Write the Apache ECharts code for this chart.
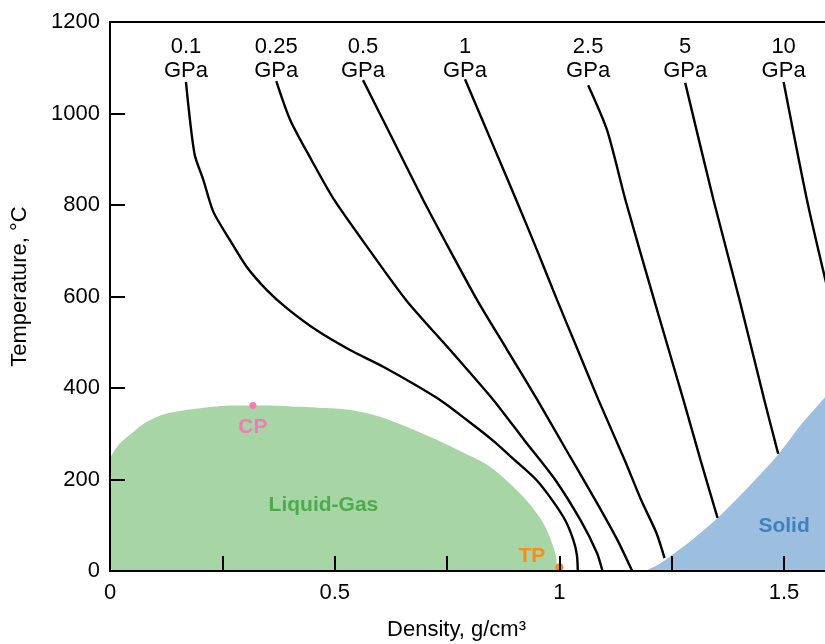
<!DOCTYPE html>
<html>
<head>
<meta charset="utf-8">
<title>Water isobars: temperature vs density</title>
<script src="https://cdn.jsdelivr.net/npm/echarts@6/dist/echarts.min.js"></script>
<style>
  html, body { margin: 0; padding: 0; background: #fff; }
  #chart { width: 825px; height: 644px; }
</style>
</head>
<body>
<div id="chart"></div>
<script>
// Isobar names (GPa) and their traces as [density g/cm3, temperature °C], top to bottom
const isobarNames = ['0.1', '0.25', '0.5', '1', '2.5', '5', '10'];

const isobar0_1 = [[0.169,1069],[0.188,912],[0.208,854],[0.230,785],[0.267,723],[0.304,665],[0.349,614],
  [0.394,574],[0.460,526],[0.534,483],[0.609,446],[0.728,378],[0.794,330],[0.851,286],[0.900,243],
  [0.949,199],[0.984,155],[1.013,111],[1.031,68],[1.039,35],[1.041,0]];
const isobar0_25 = [[0.370,1071],[0.401,986],[0.448,899],[0.499,811],[0.577,702],[0.659,592],[0.757,483],
  [0.853,374],[0.922,286],[0.991,199],[1.047,111],[1.084,39],[1.096,0]];
const isobar0_5 = [[0.563,1073],[0.630,942],[0.697,811],[0.756,702],[0.817,592],[0.884,483],[0.951,374],
  [1.015,265],[1.080,155],[1.129,68],[1.162,0]];
const isobar1 = [[0.790,1075],[0.857,920],[0.904,811],[0.950,702],[0.995,592],[1.041,483],[1.087,374],
  [1.145,243],[1.182,155],[1.216,83],[1.234,28]];
const isobar2_5 = [[1.064,1062],[1.106,964],[1.147,811],[1.211,592],[1.276,374],[1.314,243],[1.352,116]];
const isobar5 = [[1.280,1067],[1.343,811],[1.401,592],[1.456,374],[1.487,256]];
const isobar10 = [[1.499,1069],[1.551,811],[1.592,636],[1.632,472]];

const isobars = [isobar0_1, isobar0_25, isobar0_5, isobar1, isobar2_5, isobar5, isobar10];

// Phase region boundaries
const liquidGasEdge = [[0,247],[0.022,279],[0.052,304],[0.082,326],[0.126,344],[0.200,356],[0.275,362],
  [0.350,362],[0.423,359],[0.534,352],[0.601,337],[0.713,293],[0.780,262],[0.846,228],[0.920,162],
  [0.964,105],[0.991,39],[0.995,0]];
const solidEdge = [[1.190,0],[1.222,15],[1.252,36],[1.290,64],[1.351,115],[1.414,177],[1.488,256],
  [1.537,319],[1.592,381],[1.630,428]];

// Special points
const criticalPoint = [0.318, 362];
const triplePoint = [1.0, 8];

// Region captions, anchored in data coordinates
const regionLabels = [
  { text: 'Liquid-Gas', at: [0.475, 144], color: '#4cac4c' },
  { text: 'Solid', at: [1.500, 97], color: '#3f80c2' }
];

// Axis settings
const xTicks = { min: 0, max: 1.6, step: 0.25, labelStep: 0.5 };
const yTicks = { min: 0, max: 1200, step: 200 };

const FONT = '"Liberation Sans", Arial, Helvetica, sans-serif';

const chart = echarts.init(document.getElementById('chart'), null, { renderer: 'canvas' });

const series = [];

series.push({
  type: 'line', name: 'Liquid-Gas', data: liquidGasEdge, smooth: 0.3,
  showSymbol: false, silent: true, z: 1,
  lineStyle: { width: 0 },
  areaStyle: { color: '#a8d5a6', opacity: 1 }
});
series.push({
  type: 'line', name: 'Solid', data: solidEdge, smooth: 0.3,
  showSymbol: false, silent: true, z: 1,
  lineStyle: { width: 0 },
  areaStyle: { color: '#9dbfdf', opacity: 1 }
});

isobars.forEach((pts, i) => {
  series.push({
    type: 'line', name: isobarNames[i] + ' GPa', data: pts, smooth: 0.25,
    showSymbol: false, silent: true, z: 3,
    lineStyle: { color: '#000', width: 2.4 }
  });
});

// Pressure captions above the top end of each isobar
series.push({
  type: 'scatter', name: 'isobar labels', clip: false, silent: true, z: 4,
  symbolSize: 0,
  itemStyle: { opacity: 1 },
  data: isobars.map(pts => [pts[0][0], yTicks.max]),
  label: {
    show: true, position: 'bottom', distance: 13,
    formatter: p => isobarNames[p.dataIndex] + '\nGPa',
    fontFamily: FONT, fontSize: 22, lineHeight: 24, color: '#000', align: 'center'
  }
});

series.push({
  type: 'scatter', name: 'CP', clip: false, silent: true, z: 5,
  symbol: 'circle', symbolSize: 7,
  itemStyle: { color: '#f47ab6', opacity: 1 },
  data: [criticalPoint],
  label: {
    show: true, position: 'bottom', distance: 8, formatter: 'CP',
    fontFamily: FONT, fontSize: 21, fontWeight: 'bold', color: '#f47ab6'
  }
});
series.push({
  type: 'scatter', name: 'TP', clip: true, silent: true, z: 5,
  symbol: 'circle', symbolSize: 8,
  itemStyle: { color: '#ff8a12', opacity: 1 },
  data: [triplePoint],
  label: {
    show: true, position: 'left', distance: 10, offset: [0, -11], formatter: 'TP',
    fontFamily: FONT, fontSize: 21, fontWeight: 'bold', color: '#ff8a12'
  }
});

// Region captions, each in its own colour
series.push({
  type: 'scatter', name: 'regions', clip: false, silent: true, z: 5,
  symbolSize: 0,
  itemStyle: { opacity: 1 },
  data: regionLabels.map(r => ({ value: r.at, label: { color: r.color } })),
  label: {
    show: true, position: 'inside',
    formatter: p => regionLabels[p.dataIndex].text,
    fontFamily: FONT, fontSize: 21, fontWeight: 'bold'
  }
});

const axisLineStyle = { color: '#000', width: 2 };

chart.setOption({
  animation: false,
  backgroundColor: '#fff',
  textStyle: { fontFamily: FONT },
  grid: {
    left: 110, top: 22, right: -4, bottom: 73,
    containLabel: false, outerBoundsMode: 'none',
    show: true, borderColor: '#000', borderWidth: 2, backgroundColor: 'transparent'
  },
  xAxis: {
    type: 'value', min: xTicks.min, max: xTicks.max, interval: xTicks.step,
    z: 10,
    name: 'Density, g/cm³', nameLocation: 'middle', nameGap: 48,
    nameTextStyle: { fontFamily: FONT, fontSize: 22, color: '#000', padding: [0, 26, 0, 0] },
    axisLine: { show: true, onZero: false, lineStyle: axisLineStyle },
    axisTick: { show: true, inside: true, length: 15, lineStyle: axisLineStyle },
    splitLine: { show: false },
    axisLabel: {
      show: true, margin: 11, showMaxLabel: false,
      fontFamily: FONT, fontSize: 22, color: '#000',
      formatter: v => {
        const k = v / xTicks.labelStep;
        return Math.abs(k - Math.round(k)) < 1e-6 ? String(+v.toFixed(2)) : '';
      }
    }
  },
  yAxis: {
    type: 'value', min: yTicks.min, max: yTicks.max, interval: yTicks.step,
    z: 10,
    name: 'Temperature, °C', nameLocation: 'middle', nameGap: 79,
    nameTextStyle: { fontFamily: FONT, fontSize: 22, color: '#000', padding: [0, 0, 0, 20] },
    axisLine: { show: true, onZero: false, lineStyle: axisLineStyle },
    axisTick: { show: true, inside: true, length: 15, lineStyle: axisLineStyle },
    splitLine: { show: false },
    axisLabel: {
      show: true, margin: 10, fontFamily: FONT, fontSize: 22, color: '#000',
      formatter: v => String(v)
    }
  },
  series: series
});
</script>
</body>
</html>
